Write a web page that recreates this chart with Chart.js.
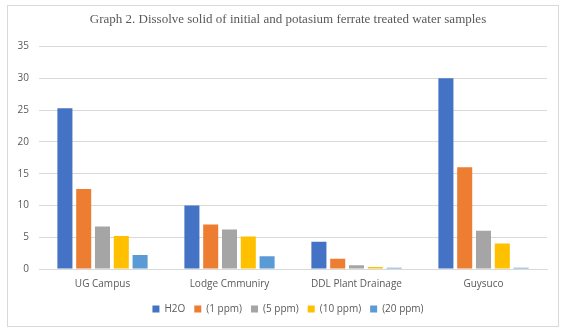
<!DOCTYPE html>
<html>
<head>
<meta charset="utf-8">
<script src="https://cdn.jsdelivr.net/npm/chart.js@4/dist/chart.umd.min.js"></script>
<style>
    html, body { margin: 0; padding: 0; background: #fff; }
    #wrap {
        position: absolute; left: 7px; top: 5px;
        width: 550px; height: 320px;
        border: 1px solid #d9d9d9;
    }
</style>
</head>
<body>
<div id="wrap"><canvas id="chart"></canvas></div>
<script>
var sites = ['UG Campus', 'Lodge Cmmuniry', 'DDL Plant Drainage', 'Guysuco'];
var seriesNames = ['H2O', '(1 ppm)', '(5 ppm)', '(10 ppm)', '(20 ppm)'];
var seriesColors = ['#4472c4', '#ed7d31', '#a5a5a5', '#ffc000', '#5b9bd5'];
var h2o = [25.3, 10.0, 4.3, 30.0];
var ppm1 = [12.6, 7.0, 1.6, 16.0];
var ppm5 = [6.7, 6.2, 0.6, 6.0];
var ppm10 = [5.2, 5.1, 0.3, 4.0];
var ppm20 = [2.2, 2.0, 0.2, 0.2];
var yTicks = [0, 5, 10, 15, 20, 25, 30, 35];

var allSeries = [h2o, ppm1, ppm5, ppm10, ppm20];
var labelFont = { family: "'Open Sans', 'Liberation Sans', sans-serif", size: 10 };

new Chart(document.getElementById('chart').getContext('2d'), {
    type: 'bar',
    data: {
        labels: sites,
        datasets: allSeries.map(function (vals, i) {
            return {
                label: seriesNames[i],
                data: vals,
                backgroundColor: seriesColors[i],
                borderWidth: 0,
                categoryPercentage: 0.74,
                barPercentage: 0.8
            };
        })
    },
    options: {
        responsive: true,
        maintainAspectRatio: false,
        animation: false,
        layout: { padding: { left: 10, right: 0, top: 4, bottom: 2 } },
        plugins: {
            title: {
                display: true,
                text: 'Graph 2. Dissolve solid of initial and potasium ferrate treated water samples',
                color: '#595959',
                font: { family: "'Liberation Serif', 'DejaVu Serif', serif", size: 13, weight: 'normal' },
                padding: { top: 2, bottom: 19 }
            },
            legend: {
                position: 'bottom',
                labels: {
                    boxWidth: 7, boxHeight: 7,
                    color: '#595959',
                    font: labelFont,
                    padding: 9
                }
            },
            tooltip: { enabled: false }
        },
        scales: {
            y: {
                min: 0, max: 35,
                afterBuildTicks: function (axis) {
                    axis.ticks = yTicks.map(function (v) { return { value: v }; });
                },
                afterFit: function (axis) { axis.width = 21; },
                border: { display: false },
                grid: { color: '#d9d9d9', drawTicks: false },
                ticks: { color: '#595959', font: labelFont, padding: 10 }
            },
            // empty right gutter
            yRight: {
                position: 'right',
                afterFit: function (axis) { axis.width = 11; },
                border: { display: false },
                grid: { display: false },
                ticks: { display: false }
            },
            x: {
                afterFit: function (axis) { axis.height += 4; },
                border: { color: '#d9d9d9' },
                grid: { display: false },
                ticks: { color: '#595959', font: labelFont, padding: 1 }
            }
        }
    }
});
</script>
</body>
</html>
